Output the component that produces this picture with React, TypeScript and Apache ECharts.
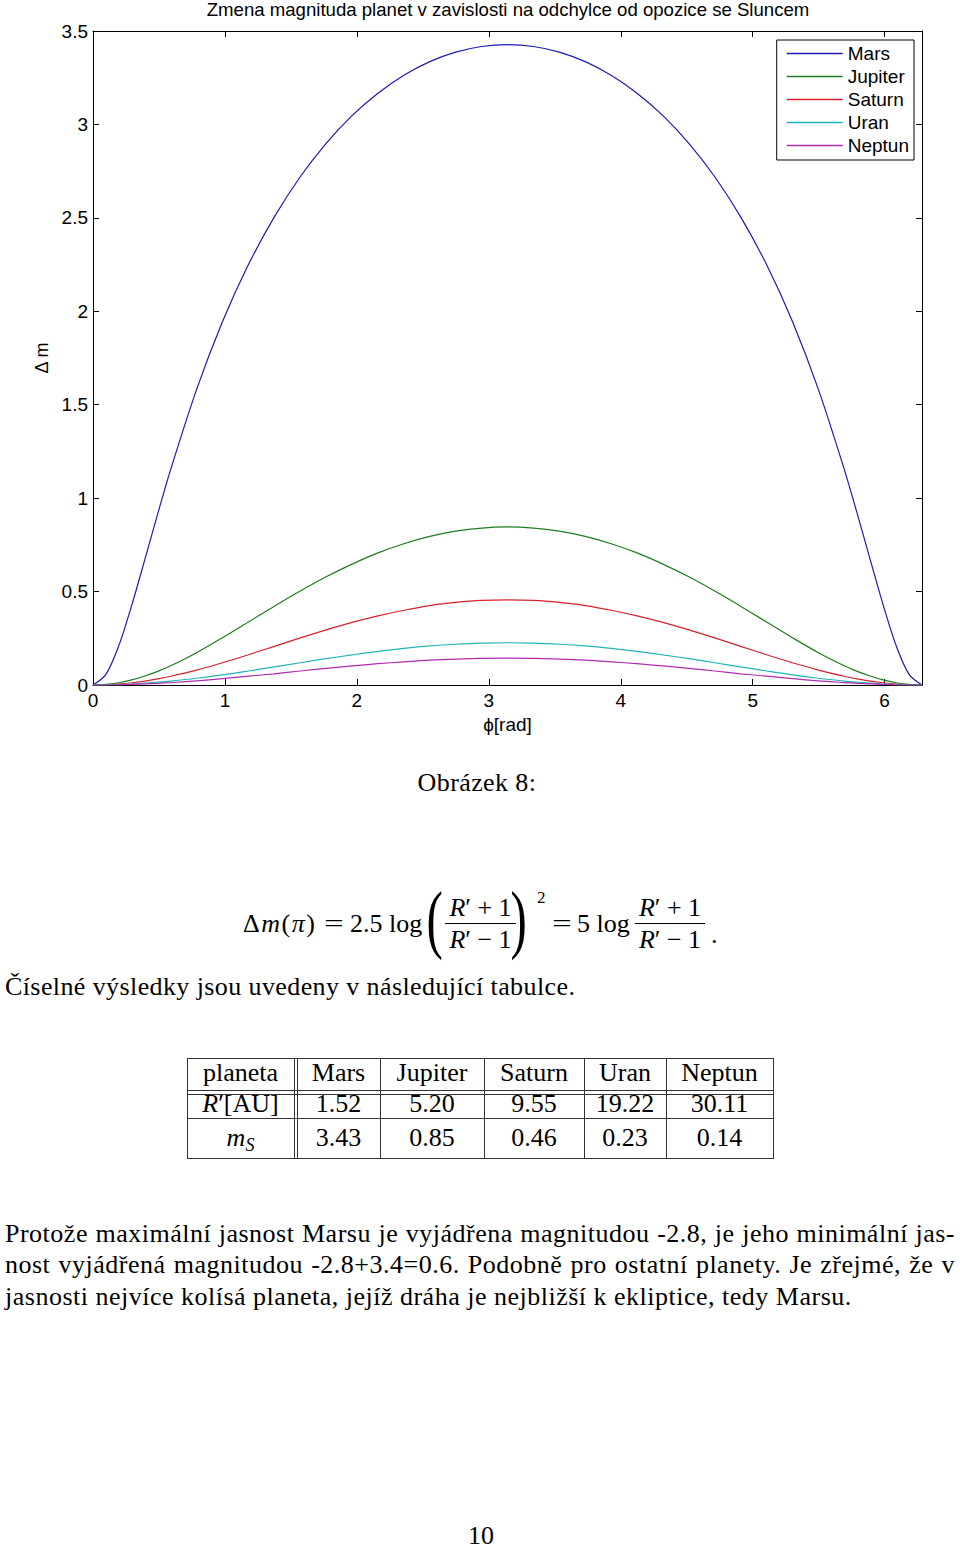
import React, { useEffect, useRef } from "react";
import * as echarts from "echarts";

// ---------- chart data (phi in rad, delta magnitude) ----------
const phi = [
  0, 0.0982, 0.1963, 0.2945, 0.3927, 0.4909, 0.589, 0.7854, 0.9817, 1.1781,
  1.3744, 1.5708, 1.7671, 1.9635, 2.1598, 2.3562, 2.5525, 2.7489, 2.9452, 3.1416,
  3.3379, 3.5343, 3.7306, 3.927, 4.1233, 4.3197, 4.516, 4.7124, 4.9087, 5.1051,
  5.3014, 5.4978, 5.6941, 5.7923, 5.8905, 5.9887, 6.0868, 6.185, 6.2832,
];
const mars = [
  0, 0.057, 0.212, 0.429, 0.671, 0.917, 1.154, 1.582, 1.945, 2.25,
  2.505, 2.72, 2.899, 3.047, 3.167, 3.263, 3.336, 3.387, 3.417, 3.427,
  3.417, 3.387, 3.336, 3.263, 3.167, 3.047, 2.899, 2.72, 2.505, 2.25,
  1.945, 1.582, 1.154, 0.917, 0.671, 0.429, 0.212, 0.057, 0,
];
const jupiter = [
  0, 0.003, 0.012, 0.027, 0.048, 0.073, 0.103, 0.173, 0.253, 0.337,
  0.422, 0.503, 0.579, 0.647, 0.707, 0.756, 0.795, 0.823, 0.84, 0.846,
  0.84, 0.823, 0.795, 0.756, 0.707, 0.647, 0.579, 0.503, 0.422, 0.337,
  0.253, 0.173, 0.103, 0.073, 0.048, 0.027, 0.012, 0.003, 0,
];
const saturn = [
  0, 0.001, 0.005, 0.012, 0.021, 0.033, 0.047, 0.08, 0.119, 0.162,
  0.207, 0.252, 0.295, 0.335, 0.37, 0.4, 0.425, 0.442, 0.453, 0.456,
  0.453, 0.442, 0.425, 0.4, 0.37, 0.335, 0.295, 0.252, 0.207, 0.162,
  0.119, 0.08, 0.047, 0.033, 0.021, 0.012, 0.005, 0.001, 0,
];
const uran = [
  0, 0.001, 0.002, 0.005, 0.01, 0.015, 0.021, 0.036, 0.054, 0.075,
  0.097, 0.119, 0.141, 0.161, 0.18, 0.196, 0.209, 0.218, 0.224, 0.226,
  0.224, 0.218, 0.209, 0.196, 0.18, 0.161, 0.141, 0.119, 0.097, 0.075,
  0.054, 0.036, 0.021, 0.015, 0.01, 0.005, 0.002, 0.001, 0,
];
const neptun = [
  0, 0.0, 0.001, 0.003, 0.006, 0.009, 0.013, 0.022, 0.034, 0.047,
  0.06, 0.075, 0.089, 0.102, 0.114, 0.124, 0.133, 0.139, 0.143, 0.144,
  0.143, 0.139, 0.133, 0.124, 0.114, 0.102, 0.089, 0.075, 0.06, 0.047,
  0.034, 0.022, 0.013, 0.009, 0.006, 0.003, 0.001, 0.0, 0,
];
const seriesNames = ["Mars", "Jupiter", "Saturn", "Uran", "Neptun"];
const seriesValues = [mars, jupiter, saturn, uran, neptun];
const seriesColors = ["#1c1cb4", "#1f7d1f", "#d8222e", "#22b4b4", "#b02cb0"];

const chartTitle = "Zmena magnituda planet v zavislosti na odchylce od opozice se Sluncem";
const xAxisName = "ϕ[rad]";
const yAxisName = "Δ m";

// ---------- table data ----------
const tableHeader = ["planeta", "Mars", "Jupiter", "Saturn", "Uran", "Neptun"];
const distances = ["1.52", "5.20", "9.55", "19.22", "30.11"];
const magnitudes = ["3.43", "0.85", "0.46", "0.23", "0.14"];

const paragraphLines = [
  "Protože maximální jasnost Marsu je vyjádřena magnitudou -2.8, je jeho minimální jas-",
  "nost vyjádřená magnitudou -2.8+3.4=0.6. Podobně pro ostatní planety. Je zřejmé, že v",
  "jasnosti nejvíce kolísá planeta, jejíž dráha je nejbližší k ekliptice, tedy Marsu.",
];

const sans = '"Liberation Sans", Arial, Helvetica, sans-serif';
const serif = '"Liberation Serif", "Times New Roman", serif';

function Chart() {
  const ref = useRef<HTMLDivElement>(null);
  useEffect(() => {
    if (!ref.current) return;
    const chart = echarts.init(ref.current, undefined, { renderer: "svg" });
    const axisCommon = {
      type: "value" as const,
      axisLine: { show: true, onZero: false, lineStyle: { color: "#000", width: 1 } },
      axisTick: { show: true, inside: true, length: 6, lineStyle: { color: "#000", width: 1 } },
      splitLine: { show: false },
    };
    chart.setOption({
      animation: false,
      backgroundColor: "#fff",
      textStyle: { fontFamily: sans },
      grid: { left: 93, right: 38, top: 31, bottom: 60, containLabel: false },
      xAxis: [
        {
          ...axisCommon,
          min: 0,
          max: 6.2832,
          interval: 1,
          position: "bottom",
          axisLabel: { color: "#000", fontSize: 19, margin: 6, showMaxLabel: false, fontFamily: sans },
          name: xAxisName,
          nameLocation: "middle",
          nameGap: 27,
          nameTextStyle: { color: "#000", fontSize: 19, fontFamily: sans },
        },
        {
          ...axisCommon,
          min: 0,
          max: 6.2832,
          interval: 1,
          position: "top",
          axisLabel: { show: false },
        },
      ],
      yAxis: [
        {
          ...axisCommon,
          min: 0,
          max: 3.5,
          interval: 0.5,
          position: "left",
          axisLabel: { color: "#000", fontSize: 19, margin: 5, fontFamily: sans },
          name: yAxisName,
          nameLocation: "middle",
          nameGap: 42,
          nameRotate: 90,
          nameTextStyle: { color: "#000", fontSize: 18, fontFamily: sans },
        },
        {
          ...axisCommon,
          min: 0,
          max: 3.5,
          interval: 0.5,
          position: "right",
          axisLabel: { show: false },
        },
      ],
      legend: {
        orient: "vertical",
        right: 46,
        top: 40,
        backgroundColor: "#fff",
        borderColor: "#000",
        borderWidth: 1,
        borderRadius: 0,
        padding: [4, 5, 5, 10],
        itemGap: 4,
        itemWidth: 56,
        itemHeight: 1.3,
        icon: "rect",
        textStyle: { fontSize: 19, color: "#000", lineHeight: 19, fontFamily: sans },
        data: seriesNames,
      },
      graphic: [
        {
          type: "text",
          x: 508,
          y: 0,
          style: {
            text: chartTitle,
            fill: "#000",
            fontSize: 18.6,
            fontFamily: sans,
            align: "center",
            verticalAlign: "top",
          },
        },
      ],
      series: seriesNames.map((name, i) => ({
        type: "line",
        name,
        xAxisIndex: 0,
        yAxisIndex: 0,
        data: phi.map((x, j) => [x, seriesValues[i][j]]),
        showSymbol: false,
        symbol: "none",
        smooth: 0.3,
        lineStyle: { width: 1.2, color: seriesColors[i] },
        itemStyle: { color: seriesColors[i] },
      })),
    });
    return () => chart.dispose();
  }, []);
  return <div ref={ref} style={{ position: "absolute", left: 0, top: 0, width: 960, height: 745 }} />;
}

// text placed by its baseline
function T({ x, base, size = 26, children, style = {} }: any) {
  return (
    <div
      style={{
        position: "absolute",
        left: x,
        top: base - 0.8375 * size,
        fontSize: size,
        lineHeight: `${size}px`,
        whiteSpace: "nowrap",
        ...style,
      }}
    >
      {children}
    </div>
  );
}
function TC({ cx, w, base, size = 26, children }: any) {
  return (
    <T x={cx - w / 2} base={base} size={size} style={{ width: w, textAlign: "center" }}>
      {children}
    </T>
  );
}
function HLine({ x1, x2, y, t = 1, color = "#000" }: any) {
  return <div style={{ position: "absolute", left: x1, top: y, width: x2 - x1, height: t, background: color }} />;
}
function VLine({ x, y1, y2, t = 1, color = "#000" }: any) {
  return <div style={{ position: "absolute", left: x, top: y1, width: t, height: y2 - y1, background: color }} />;
}
function BigParen({ x, ch }: any) {
  const size = 70;
  return (
    <T
      x={x}
      base={942.5}
      size={size}
      style={{ transform: "scale(0.7, 1.1)", transformOrigin: `50% ${0.8375 * size - 17.5}px` }}
    >
      {ch}
    </T>
  );
}
function Eq({ x }: any) {
  return (
    <T x={x} base={933} style={{ transform: "scaleX(1.35)", transformOrigin: "0 50%" }}>
      =
    </T>
  );
}

function Fraction({ x1, x2 }: any) {
  const cx = (x1 + x2) / 2;
  const w = x2 - x1 + 20;
  return (
    <>
      <TC cx={cx} w={w} base={917}>
        <i>R</i>′ + 1
      </TC>
      <HLine x1={x1} x2={x2} y={923} t={1.2} />
      <TC cx={cx} w={w} base={949}>
        <i>R</i>′ − 1
      </TC>
    </>
  );
}

const tableCols = [187, 294, 297, 380, 484, 584, 666, 773];
const cellCenters = [240.5, 338.5, 432, 534, 625, 719.5];
const tableRowsY = [1058, 1090, 1094, 1118, 1158];

export default function App() {
  return (
    <div
      style={{
        position: "absolute",
        left: 0,
        top: 0,
        width: 960,
        height: 1549,
        background: "#fff",
        overflow: "hidden",
        fontFamily: serif,
        color: "#000",
      }}
    >
      <Chart />

      {/* caption */}
      <div style={{ position: "absolute", left: 0, width: 954, top: 767, lineHeight: "32px", fontSize: 26, letterSpacing: 0.4, textAlign: "center" }}>
        Obrázek 8:
      </div>

      {/* formula */}
      <T x={243} base={933} style={{ letterSpacing: 1.5 }}>
        Δ<i>m</i>(<i>π</i>)
      </T>
      <Eq x={324} />
      <T x={350} base={933}>2.5 log</T>
      <BigParen x={423} ch="(" />
      <Fraction x1={445} x2={516} />
      <BigParen x={506.5} ch=")" />
      <T x={537} base={903} size={17}>2</T>
      <Eq x={552} />
      <T x={577} base={933}>5 log</T>
      <Fraction x1={635} x2={705} />
      <T x={711} base={944}>.</T>

      <div style={{ position: "absolute", left: 5, top: 971, lineHeight: "32px", fontSize: 26, letterSpacing: 0.4, whiteSpace: "nowrap" }}>
        Číselné výsledky jsou uvedeny v následující tabulce.
      </div>

      {/* table */}
      {tableRowsY.map((y, i) => (
        <HLine key={"h" + i} x1={187} x2={774} y={y} color="#333" />
      ))}
      {tableCols.map((x, i) => (
        <VLine key={"v" + i} x={x} y1={1058} y2={1159} color="#333" />
      ))}
      {tableHeader.map((h, i) => (
        <TC key={"th" + i} cx={cellCenters[i]} w={110} base={1082}>
          {h}
        </TC>
      ))}
      <TC cx={cellCenters[0]} w={110} base={1113}>
        <i>R</i>′[AU]
      </TC>
      {distances.map((d, i) => (
        <TC key={"d" + i} cx={cellCenters[i + 1]} w={110} base={1113}>
          {d}
        </TC>
      ))}
      <TC cx={cellCenters[0]} w={110} base={1147}>
        <i>m</i>
        <i style={{ fontSize: 18, position: "relative", top: 5 }}>S</i>
      </TC>
      {magnitudes.map((m, i) => (
        <TC key={"m" + i} cx={cellCenters[i + 1]} w={110} base={1147}>
          {m}
        </TC>
      ))}

      {/* paragraph */}
      {paragraphLines.map((line, i) => (
        <div
          key={"p" + i}
          style={{
            position: "absolute",
            left: 5,
            top: [1218, 1249, 1281][i],
            width: i < 2 ? 950 : undefined,
            lineHeight: "32px",
            fontSize: 26,
            letterSpacing: 0.5,
            whiteSpace: "nowrap",
            display: i < 2 ? "flex" : "block",
            justifyContent: "space-between",
          }}
        >
          {i < 2 ? line.split(" ").map((w, j) => <span key={j}>{w}</span>) : line}
        </div>
      ))}

      {/* page number */}
      <div style={{ position: "absolute", left: 0, width: 962, top: 1520, lineHeight: "32px", fontSize: 26, textAlign: "center" }}>
        10
      </div>
    </div>
  );
}
